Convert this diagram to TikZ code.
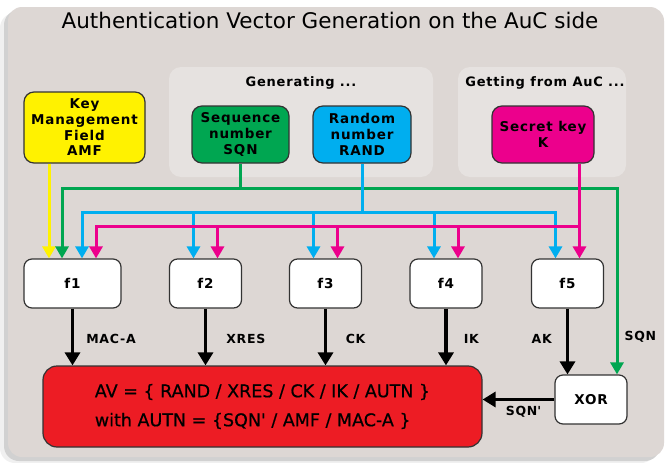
\documentclass[tikz,border=0pt]{standalone}
\usepackage{fontspec}
\setmainfont{DejaVu Sans}
\newfontfamily\labelfam{DejaVu Sans}[LetterSpace=6]
\newfontfamily\avfam{DejaVu Sans}[FakeBold=0.5]
\usetikzlibrary{arrows.meta}

\definecolor{panelgray}{RGB}{221,215,212}
\definecolor{groupgray}{RGB}{230,226,224}
\definecolor{amfyellow}{RGB}{255,242,0}
\definecolor{sqngreen}{RGB}{0,166,81}
\definecolor{randblue}{RGB}{0,174,239}
\definecolor{keypink}{RGB}{236,0,140}
\definecolor{avred}{RGB}{237,28,36}

\newcommand\boxfont{\labelfam\bfseries\fontsize{13.5}{15.7}\selectfont}
\newcommand\grpfont{\labelfam\bfseries\fontsize{13}{15}\selectfont}
\newcommand\wirefont{\labelfam\bfseries\fontsize{12.5}{14}\selectfont}
\newcommand\avfont{\avfam\fontsize{17.5}{29}\selectfont}

\begin{document}
\begin{tikzpicture}[x=1pt, y=-1pt,
  box/.style={draw=black!80, line width=1.2pt, align=center, inner sep=0pt, font=\boxfont},
  src/.style={box, rounded corners=10pt, minimum height=57pt},
  fn/.style={box, fill=white, rounded corners=8pt, minimum width=72pt, minimum height=49pt},
  grp/.style={fill=groupgray, rounded corners=12pt},
  grplabel/.style={font=\grpfont, inner sep=0pt, anchor=base},
  wire/.style={line width=3pt},
  ctip/.style={-{Triangle[width=13pt,length=12pt]}},
  dual/.style={{Triangle[width=13pt,length=12pt]}-{Triangle[width=13pt,length=12pt]}},
  flow/.style={line width=3.5pt, -{Triangle[width=15pt,length=13pt]}},
  lbl/.style={font=\wirefont, inner sep=0pt}
]
\useasboundingbox (0,0) rectangle (665,463);
\fill[white] (0,0) rectangle (665,463);

% panel with a soft shadow to the lower left
\fill[black!6, rounded corners=15pt] (0,13) rectangle (656,463);
\fill[black!18, rounded corners=15pt] (4,10) rectangle (660,461);
\fill[panelgray, rounded corners=14pt] (8,7) rectangle (664,457);

\node[font=\fontsize{21.5}{24}\selectfont, inner sep=0pt, anchor=base] (title) at (330,28)
  {Authentication Vector Generation on the AuC side};

% input groups
\fill[grp] (169,67) rectangle (433,177);
\fill[grp] (458,67) rectangle (626,177);
\node[grplabel] (gen) at (301,86) {Generating ...};
\node[grplabel] (get) at (545,86) {Getting from AuC ...};

% inputs
\node[src, fill=amfyellow, minimum width=121pt, minimum height=71pt] (amf) at (84.5,127.5) {Key\\Management\\Field\\AMF};
\node[src, fill=sqngreen, minimum width=97pt] (sqn) at (240.5,134.5) {Sequence\\number\\SQN};
\node[src, fill=randblue, minimum width=98pt] (rand) at (362,134.5) {Random\\number\\RAND};
\node[src, fill=keypink, minimum width=102pt] (key) at (543,134.5) {Secret key\\K};

% functions
\node[fn, minimum width=97pt] (f1) at (72.5,283.5) {f1};
\node[fn] (f2) at (205.5,283.5) {f2};
\node[fn] (f3) at (325.5,283.5) {f3};
\node[fn] (f4) at (446,283.5) {f4};
\node[fn] (f5) at (567.5,283.5) {f5};

% result vector and XOR
\node[box, fill=avred, rounded corners=14pt, minimum width=439pt, minimum height=81pt,
      font=\avfont, align=left] (av) at (262.5,406.5)
  {AV = \{ RAND / XRES / CK / IK / AUTN \}\\with AUTN = \{SQN\textquotesingle{} / AMF / MAC-A \}};
\node[fn] (xor) at (591,399.5) {XOR};

% entry points on the function boxes
\coordinate (y1) at ([xshift=-23.5pt]f1.north);
\coordinate (g1) at ([xshift=-10.5pt]f1.north);
\coordinate (b1) at ([xshift=9.5pt]f1.north);
\coordinate (m1) at ([xshift=23.5pt]f1.north);
\foreach \i in {2,...,5}{
  \coordinate (b\i) at ([xshift=-12pt]f\i.north);
  \coordinate (m\i) at ([xshift=12pt]f\i.north);
}
\coordinate (xg) at ([xshift=26pt]xor.north);

% AMF
\draw[wire, amfyellow, ctip] (amf.south -| y1) -- (y1);

% SQN
\coordinate (gj) at ([yshift=-24.5pt]sqn.south);
\draw[wire, sqngreen] (sqn.south) -- (gj);
\draw[wire, sqngreen, dual] (g1) -- (g1 |- gj) -- (xg |- gj) -- (xg)
  node[lbl, pos=0.8, anchor=west, xshift=6pt, text=black] {SQN};

% RAND
\coordinate (bj) at ([yshift=-49pt]rand.south);
\draw[wire, randblue] (rand.south) -- (bj);
\draw[wire, randblue, dual] (b1) -- (b1 |- bj) -- (b5 |- bj) -- (b5);
\foreach \i in {2,3,4} \draw[wire, randblue, ctip] (b\i |- bj) -- (b\i);

% K
\coordinate (mk) at (key.south -| m5);
\coordinate (mj) at ([yshift=-63pt]mk);
\draw[wire, keypink, ctip] (mk) -- (m5);
\draw[wire, keypink, ctip] (mj) -- (m1 |- mj) -- (m1);
\foreach \i in {2,3,4} \draw[wire, keypink, ctip] (m\i |- mj) -- (m\i);

% outputs
\draw[flow] (f1.south) -- (f1.south |- av.north) node[lbl, midway, anchor=west, xshift=12pt, yshift=-2pt] {MAC-A};
\draw[flow] (f2.south) -- (f2.south |- av.north) node[lbl, midway, anchor=west, xshift=19pt, yshift=-2pt] {XRES};
\draw[flow] (f3.south) -- (f3.south |- av.north) node[lbl, midway, anchor=west, xshift=18.5pt, yshift=-2pt] {CK};
\draw[flow] (f4.south) -- (f4.south |- av.north) node[lbl, midway, anchor=west, xshift=16pt, yshift=-2pt] {IK};
\draw[flow] (f5.south) -- (f5.south |- xor.north) node[lbl, midway, anchor=east, xshift=-14pt, yshift=3pt] {AK};
\draw[flow] (xor.west) -- (xor.west -| av.east) node[lbl, midway, xshift=5pt, yshift=-12.5pt] {SQN\textquotesingle};
\end{tikzpicture}
\end{document}
